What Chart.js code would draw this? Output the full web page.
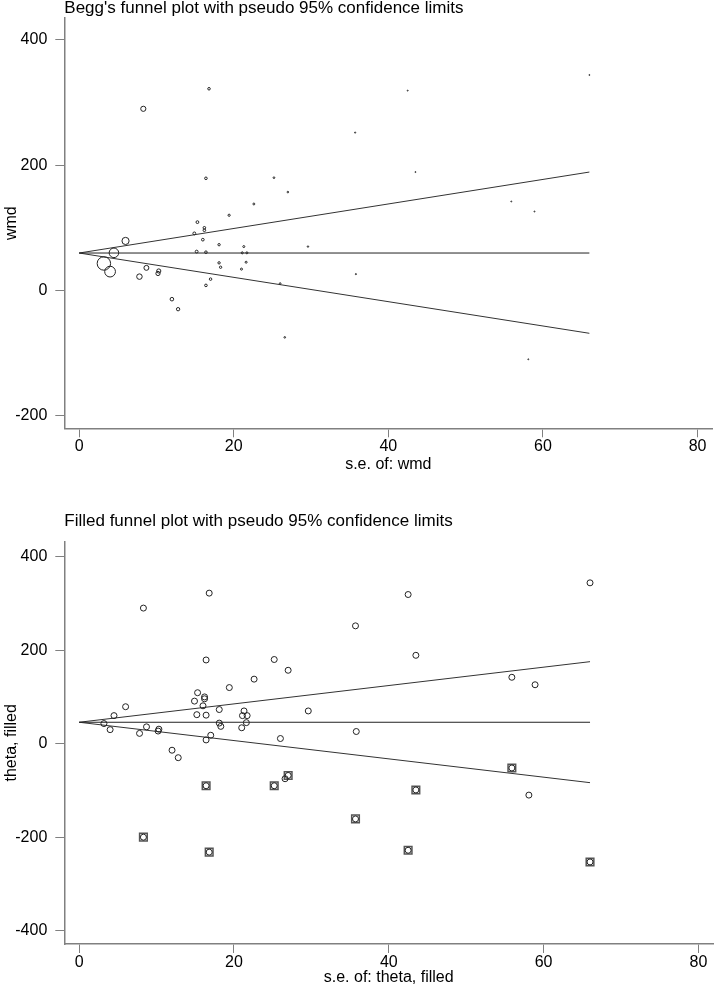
<!DOCTYPE html>
<html>
<head>
<meta charset="utf-8">
<script src="https://cdn.jsdelivr.net/npm/chart.js@4.4.1/dist/chart.umd.min.js"></script>
<style>
  html, body { margin: 0; padding: 0; background: #fff; }
  .box { position: absolute; left: 0; width: 720px; }
</style>
</head>
<body>
<div class="box" style="top:0;height:490px"><canvas id="beggChart" width="720" height="490"></canvas></div>
<div class="box" style="top:490px;height:497px"><canvas id="filledChart" width="720" height="497"></canvas></div>
<script>
// studies: standard error and effect (wmd)
const seOrig = [3.2, 4.0, 4.5, 6.0, 7.8, 8.3, 8.7, 10.2, 10.3, 12.0, 12.8, 14.9, 15.2, 15.3, 16.0,
                16.2, 16.2, 16.4, 16.4, 16.4, 16.8, 17.0, 18.1, 18.1, 18.3, 19.4, 21.0, 21.1, 21.3, 21.6,
                21.7, 22.6, 25.2, 26.0, 26.6, 27.0, 29.6, 35.7, 35.8, 42.5, 43.5, 55.9, 58.1, 58.9, 66.0];
const thetaOrig = [43, 30, 60, 79, 22, 290, 36, 27, 31, -14, -30, 91, 62, 109, 81,
                   100, 96, 179, 61, 8, 322, 18, 73, 44, 37, 120, 34, 60, 70, 45,
                   60, 138, 180, 11, -75, 157, 70, 252, 26, 319, 189, 142, -110, 126, 344];

// imputed (filled) studies
const seFilled = [8.3, 16.4, 16.8, 25.2, 27.0, 35.7, 42.5, 43.5, 55.9, 66.0];
const thetaFilled = [-200, -90, -232, -90, -68, -161, -228, -99, -52, -253];

// pseudo 95% confidence limits
const seLimits = [0, 66];
const beggCenter = [59.7, 59.7];
const beggUpper = [59.7, 189];
const beggLower = [59.7, -68.5];
const filledCenter = [45.8, 45.8];
const filledUpper = [45.8, 175.4];
const filledLower = [45.8, -83.4];

// ticks
const xTicks = [0, 20, 40, 60, 80];
const yTicksBegg = [-200, 0, 200, 400];
const yTicksFilled = [-400, -200, 0, 200, 400];

Chart.defaults.font.family = 'Arial, "Liberation Sans", sans-serif';
Chart.defaults.color = '#000';

const pts = (xs, ys) => xs.map((x, i) => ({ x: x, y: ys[i] }));
const axisGray = '#808080';

function lineSet(ys, color) {
    return {
        type: 'scatter',
        data: pts(seLimits, ys),
        showLine: true,
        borderColor: color,
        borderWidth: 1,
        pointRadius: 0,
        fill: false
    };
}

function xScale(titleText, h, titlePad) {
    return {
        type: 'linear',
        min: -1.92,
        max: 81.9,
        afterBuildTicks: s => { s.ticks = xTicks.map(v => ({ value: v })); },
        afterFit: s => { s.height = h; },
        grid: { drawOnChartArea: false, drawTicks: true, tickLength: 9, color: axisGray, lineWidth: 1 },
        border: { display: true, color: axisGray, width: 1.5 },
        ticks: { font: { size: 16 }, padding: 0, color: '#000' },
        title: { display: true, text: titleText, font: { size: 16 }, padding: { top: 0, bottom: titlePad }, color: '#000' }
    };
}

function yScale(titleText, min, max, ticks) {
    return {
        type: 'linear',
        min: min,
        max: max,
        afterBuildTicks: s => { s.ticks = ticks.map(v => ({ value: v })); },
        afterFit: s => { s.width = 64.3; },
        grid: { drawOnChartArea: false, drawTicks: true, tickLength: 9, color: axisGray, lineWidth: 1 },
        border: { display: true, color: axisGray, width: 1.5 },
        ticks: { font: { size: 16 }, padding: 8, color: '#000' },
        title: { display: true, text: titleText, font: { size: 16 }, padding: { top: 2, bottom: 0 }, color: '#000' }
    };
}

function titleOpts(text, top, bottom) {
    return {
        display: true,
        text: text,
        align: 'start',
        fullSize: false,
        color: '#000',
        font: { size: 17, weight: 'normal', lineHeight: 1 },
        padding: { top: top, bottom: bottom }
    };
}

// Begg's funnel plot, marker size by weight
const beggChart = new Chart(document.getElementById('beggChart'), {
    type: 'scatter',
    data: {
        datasets: [
            {
                data: pts(seOrig, thetaOrig),
                borderColor: '#222',
                backgroundColor: 'rgba(0,0,0,0)',
                borderWidth: 1,
                pointRadius: ctx => Math.max(0.5, 21.5 / seOrig[ctx.dataIndex])
            },
            lineSet(beggCenter, '#222'),
            lineSet(beggUpper, '#333'),
            lineSet(beggLower, '#333')
        ]
    },
    options: {
        responsive: false,
        animation: false,
        events: [],
        layout: { padding: { top: 0, right: 2, bottom: 0, left: 0 } },
        plugins: {
            legend: { display: false },
            tooltip: { enabled: false },
            title: titleOpts("Begg's funnel plot with pseudo 95% confidence limits", 0, 1)
        },
        scales: {
            x: xScale('s.e. of: wmd', 61.7, 15.4),
            y: yScale('wmd', -220.2, 435, yTicksBegg)
        }
    }
});

// trim and fill funnel plot
const filledChart = new Chart(document.getElementById('filledChart'), {
    type: 'scatter',
    data: {
        datasets: [
            {
                data: pts(seOrig.concat(seFilled), thetaOrig.concat(thetaFilled)),
                borderColor: '#222',
                backgroundColor: 'rgba(0,0,0,0)',
                borderWidth: 1,
                pointRadius: 3
            },
            {
                data: pts(seFilled, thetaFilled),
                pointStyle: 'rect',
                borderColor: '#555',
                backgroundColor: 'rgba(0,0,0,0)',
                borderWidth: 1.5,
                pointRadius: 5.4
            },
            lineSet(filledCenter, '#222'),
            lineSet(filledUpper, '#333'),
            lineSet(filledLower, '#333')
        ]
    },
    options: {
        responsive: false,
        animation: false,
        events: [],
        layout: { padding: { top: 0, right: 2, bottom: 0, left: 0 } },
        plugins: {
            legend: { display: false },
            tooltip: { enabled: false },
            title: titleOpts('Filled funnel plot with pseudo 95% confidence limits', 23.2, 11.5)
        },
        scales: {
            x: xScale('s.e. of: theta, filled', 43, 0),
            y: yScale('theta, filled', -428.5, 432, yTicksFilled)
        }
    }
});
</script>
</body>
</html>
